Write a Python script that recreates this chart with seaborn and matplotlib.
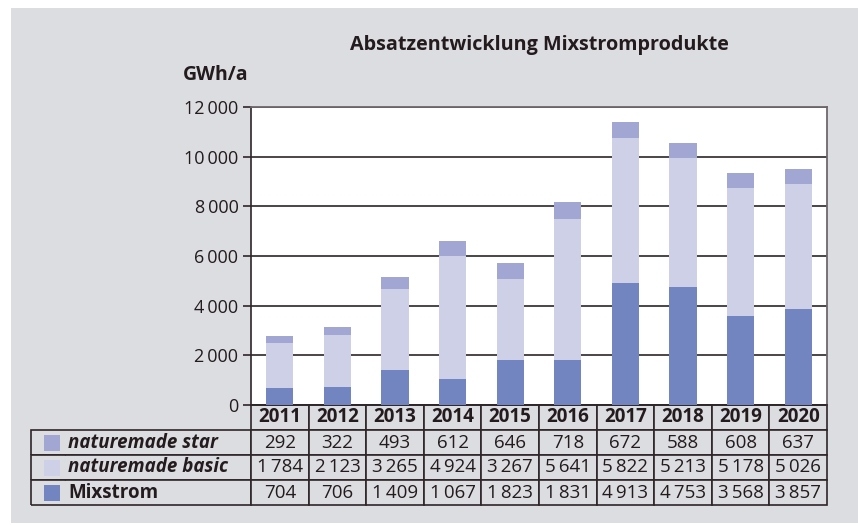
import numpy as np
import pandas as pd
import seaborn as sns
import matplotlib.pyplot as plt
from matplotlib.patches import Rectangle

# ========== Daten ==========
years = ['2011', '2012', '2013', '2014', '2015', '2016', '2017', '2018', '2019', '2020']
star = [292, 322, 493, 612, 646, 718, 672, 588, 608, 637]
basic = [1784, 2123, 3265, 4924, 3267, 5641, 5822, 5213, 5178, 5026]
mix = [704, 706, 1409, 1067, 1823, 1831, 4913, 4753, 3568, 3857]
series_names = ['naturemade star', 'naturemade basic', 'Mixstrom']
yticks = [0, 2000, 4000, 6000, 8000, 10000, 12000]
# ===========================

C_MIX = '#7385c0'
C_BASIC = '#cdd0e6'
C_STAR = '#a2a6d2'
BG = '#dcdde0'
LINE = '#2e2528'
TXT = '#231b1e'

sns.set_style('white')
plt.rcParams['font.family'] = ['Open Sans', 'DejaVu Sans']
plt.rcParams['text.color'] = TXT


def fmt(v):
    # schmales Leerzeichen als Tausendertrenner
    return f'{v:,}'.replace(',', '\u2009')


df = pd.DataFrame({'year': years, 'star': star, 'basic': basic, 'mix': mix})
df['top_basic'] = df['mix'] + df['basic']
df['top_star'] = df['top_basic'] + df['star']

W, H = 858, 525
fig = plt.figure(figsize=(W / 100, H / 100), dpi=100, facecolor='white')
fig.add_artist(Rectangle((11 / W, 2 / H), 1 - 11 / W, 1 - 10 / H,
                         transform=fig.transFigure, facecolor=BG, edgecolor='none', zorder=-10))

ax_l, ax_r, ax_t, ax_b = 251, 827, 107, 405
ax = fig.add_axes([ax_l / W, 1 - ax_b / H, (ax_r - ax_l) / W, (ax_b - ax_t) / H])
ax.set_facecolor('white')

# gestapelte Säulen: von oben nach unten übermalen
bw = 0.47
sns.barplot(data=df, x='year', y='top_star', color=C_STAR, width=bw, saturation=1, ax=ax, zorder=3)
sns.barplot(data=df, x='year', y='top_basic', color=C_BASIC, width=bw, saturation=1, ax=ax, zorder=3)
sns.barplot(data=df, x='year', y='mix', color=C_MIX, width=bw, saturation=1, ax=ax, zorder=3)
for p in ax.patches:
    p.set_edgecolor('none')

ax.set_xlim(-0.5, len(years) - 0.5)
ax.set_ylim(0, 12000)
ax.set_yticks(yticks)
ax.set_yticklabels([fmt(v) for v in yticks], fontsize=13, color=TXT)
ax.set_xticks([])
ax.set_xlabel('')
ax.set_ylabel('')
ax.yaxis.grid(True, color=LINE, lw=1.2)
ax.set_axisbelow(True)
ax.tick_params(axis='y', left=True, length=6, width=1.2, color=LINE, pad=3)
for side in ['left', 'bottom']:
    ax.spines[side].set_color(LINE)
    ax.spines[side].set_linewidth(1.2)
for side in ['top', 'right']:
    ax.spines[side].set_color('#6e6869')
    ax.spines[side].set_linewidth(1.3)

fig.text(0.5 * (ax_l + ax_r) / W, 1 - 45 / H, 'Absatzentwicklung Mixstromprodukte',
         ha='center', va='center', fontsize=14.2, fontweight='bold')
fig.text(249 / W, 1 - 75 / H, 'GWh/a', ha='right', va='center', fontsize=14, fontweight='bold')

# Tabelle unter dem Diagramm
rows = [['', ''] + years]
for name, vals in zip(series_names, [star, basic, mix]):
    rows.append(['', name] + [fmt(v) for v in vals])

col_w = [35, 185] + [(ax_r - ax_l) / len(years)] * len(years)
tab_l, tab_t, tab_b = 31, 405, 505
pw, ph = ax_r - ax_l, ax_b - ax_t
tbl = ax.table(cellText=rows, cellLoc='center', colWidths=col_w,
               bbox=[(tab_l - ax_l) / pw, -(tab_b - tab_t) / ph, (ax_r - tab_l) / pw, (tab_b - tab_t) / ph])
tbl.auto_set_font_size(False)
tbl.set_fontsize(13.5)
for (r, c), cell in tbl.get_celld().items():
    cell.set_facecolor(BG)
    cell.set_edgecolor(LINE)
    cell.set_linewidth(1.2)
    txt = cell.get_text()
    txt.set_color(TXT)
    if r == 0:
        txt.set_fontweight('bold')
        if c < 2:
            cell.visible_edges = ''
            cell.set_facecolor('none')
    else:
        if c == 0:
            cell.visible_edges = 'BLT'
        elif c == 1:
            cell.visible_edges = 'BRT'
            cell.PAD = 0.012
            txt.set_ha('left')
            cell._loc = 'left'
            txt.set_fontweight('bold')
            if r < 3:
                txt.set_fontstyle('italic')

# Farbfelder in der Legendenspalte
row_h = (tab_b - tab_t) / 4
for i, col in enumerate([C_STAR, C_BASIC, C_MIX]):
    yc = tab_t + row_h * (i + 1.5)
    ax.add_patch(Rectangle(((44 - ax_l) / pw, -(yc + 8 - ax_b) / ph), 16 / pw, 16 / ph,
                           transform=ax.transAxes, facecolor=col, edgecolor='none', clip_on=False, zorder=5))

fig.savefig('out.png', dpi=100, facecolor='white')
